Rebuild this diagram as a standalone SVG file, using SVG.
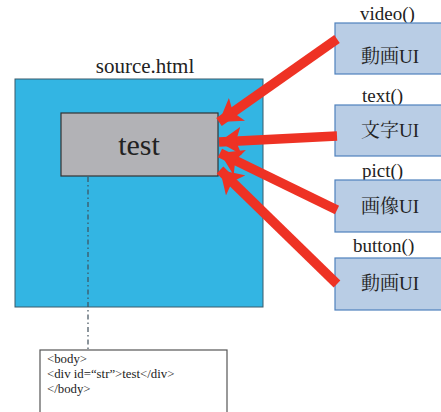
<svg xmlns="http://www.w3.org/2000/svg" width="441" height="412" viewBox="0 0 441 412">
  <style>
    text { font-family: "Liberation Serif", "Noto Serif CJK JP", "Noto Sans CJK JP", serif; fill: #222; }
    .ui { fill: #b9cde5; stroke: #4f81bd; stroke-width: 1.2; }
    .arrow { stroke: #ee3224; stroke-width: 9.5; fill: none; marker-end: url(#head); }
  </style>
  <defs>
    <marker id="head" markerUnits="userSpaceOnUse" markerWidth="26" markerHeight="28" refX="22" refY="14" orient="auto">
      <path d="M0,0 L22,14 L0,28 L5,14 Z" fill="#ee3224"/>
    </marker>
  </defs>
  <rect width="441" height="412" fill="#ffffff"/>

  <g id="source">
    <text x="145" y="73" font-size="21" text-anchor="middle">source.html</text>
    <rect x="15" y="79" width="248" height="228" fill="#33b5e3" stroke="#3a5a6a" stroke-width="1"/>
  </g>

  <g id="test">
    <rect x="61" y="113" width="157" height="63" fill="#b2b2b6" stroke="#333" stroke-width="1.2"/>
    <text x="139" y="155" font-size="30" text-anchor="middle">test</text>
  </g>

  <g id="code">
    <rect x="40" y="350" width="187" height="70" fill="#ffffff" stroke="#555" stroke-width="1.2"/>
    <text font-size="12.8">
      <tspan x="47" y="363">&lt;body&gt;</tspan>
      <tspan x="47" y="378">&lt;div id=“str”&gt;test&lt;/div&gt;</tspan>
      <tspan x="47" y="393">&lt;/body&gt;</tspan>
    </text>
  </g>

  <g id="video">
    <text x="360" y="20" font-size="19">video()</text>
    <rect class="ui" x="335" y="23" width="110" height="51"/>
    <text x="390" y="63" font-size="19" text-anchor="middle">動画UI</text>
  </g>
  <g id="text">
    <text x="362" y="102" font-size="19">text()</text>
    <rect class="ui" x="335" y="105" width="110" height="51"/>
    <text x="390" y="137" font-size="19" text-anchor="middle">文字UI</text>
  </g>
  <g id="pict">
    <text x="362" y="177" font-size="19">pict()</text>
    <rect class="ui" x="335" y="180" width="110" height="52"/>
    <text x="390" y="213" font-size="19" text-anchor="middle">画像UI</text>
  </g>
  <g id="button">
    <text x="353" y="252" font-size="19">button()</text>
    <rect class="ui" x="335" y="258" width="110" height="52"/>
    <text x="390" y="290" font-size="19" text-anchor="middle">動画UI</text>
  </g>

  <g id="connectors">
    <line x1="88" y1="177" x2="88" y2="349" stroke="#3f4f5a" stroke-width="1.2" stroke-dasharray="5,3,1.5,3"/>
    <line class="arrow" x1="337" y1="39" x2="219" y2="122"/>
    <line class="arrow" x1="337" y1="136" x2="219" y2="142"/>
    <line class="arrow" x1="337" y1="210" x2="220" y2="153"/>
    <line class="arrow" x1="337" y1="284" x2="220" y2="170"/>
  </g>
</svg>
